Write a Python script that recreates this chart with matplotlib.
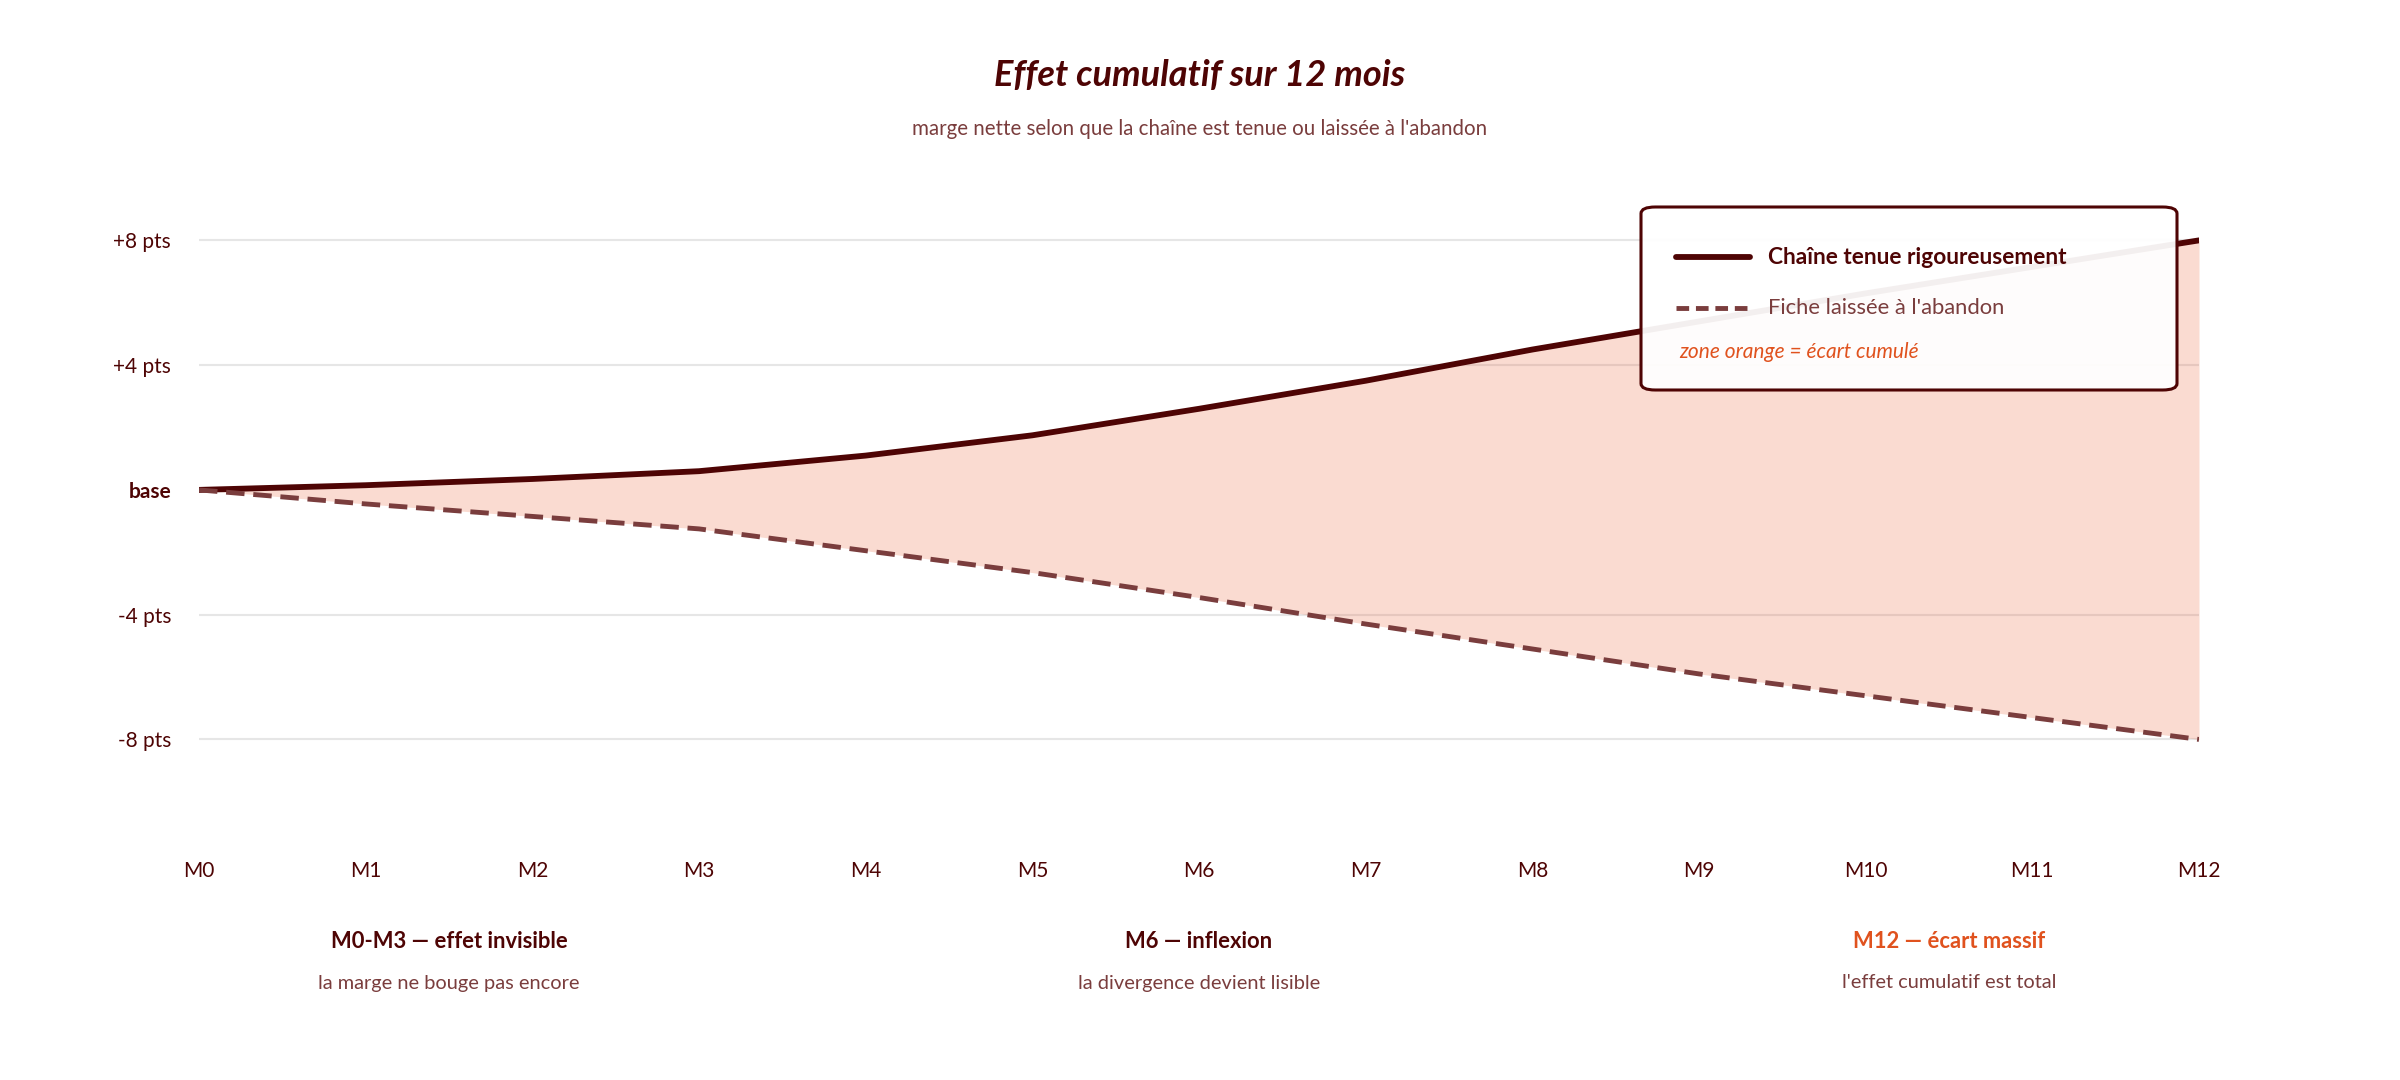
import numpy as np
import matplotlib.pyplot as plt
import matplotlib as mpl
from matplotlib.patches import FancyBboxPatch
from matplotlib.lines import Line2D
from matplotlib.transforms import blended_transform_factory

# Data
mois = ['M0', 'M1', 'M2', 'M3', 'M4', 'M5', 'M6', 'M7', 'M8', 'M9', 'M10', 'M11', 'M12']
tenue = [0, 0.15, 0.35, 0.6, 1.1, 1.75, 2.6, 3.5, 4.5, 5.4, 6.3, 7.15, 8.0]
abandon = [0, -0.45, -0.85, -1.25, -1.95, -2.65, -3.45, -4.3, -5.1, -5.9, -6.6, -7.3, -8.0]
y_ticks = [8, 4, 0, -4, -8]
y_labels = ['+8 pts', '+4 pts', 'base', '-4 pts', '-8 pts']

phases = [
    (1.5, 'M0-M3 — effet invisible', 'la marge ne bouge pas encore'),
    (6, 'M6 — inflexion', 'la divergence devient lisible'),
    (10.5, 'M12 — écart massif', "l'effet cumulatif est total"),
]

# Colours
DARK = '#4e0404'
MUTED = '#7a3d3d'
ORANGE = '#e0521e'
GRID = '#e6e6e6'

mpl.rcParams['font.family'] = ['Lato', 'DejaVu Sans']

fig = plt.figure(figsize=(24, 10.8), dpi=100)
ax = fig.add_axes([199 / 2400, 0.2287, 2000 / 2400, 0.6065])

x = np.arange(len(mois))

# Gap area
ax.fill_between(x, abandon, tenue, color='#e8552a', alpha=0.21, linewidth=0, zorder=2)

# Lines
ax.plot(x, tenue, color=DARK, linewidth=4.2, solid_capstyle='round', zorder=4)
ax.plot(x, abandon, color=MUTED, linewidth=3.5, dashes=(3.8, 1.8), zorder=4)

# Grid lines (no line at base)
for yv in y_ticks:
    if yv != 0:
        ax.axhline(yv, color=GRID, linewidth=1.5, zorder=1)

ax.set_xlim(0, 12)
ax.set_ylim(-11, 10)
ax.set_xticks(x)
ax.set_xticklabels(mois)
ax.set_yticks(y_ticks)
ax.set_yticklabels(y_labels)
ax.tick_params(axis='both', length=0, labelsize=15, labelcolor=DARK)
ax.tick_params(axis='x', pad=20)
ax.tick_params(axis='y', pad=20)
for lab in ax.get_yticklabels():
    if lab.get_text() == 'base':
        lab.set_fontweight('bold')
for s in ax.spines.values():
    s.set_visible(False)

# Titles
fig.text(0.5, 1 - 76 / 1080, 'Effet cumulatif sur 12 mois', ha='center', va='center',
         fontsize=26, fontweight='bold', fontstyle='italic', color=DARK)
fig.text(0.5, 1 - 129 / 1080, "marge nette selon que la chaîne est tenue ou laissée à l'abandon",
         ha='center', va='center', fontsize=14.8, color=MUTED)

# Phase notes under the axis
trans = blended_transform_factory(ax.transData, fig.transFigure)
for i, (xc, head, sub) in enumerate(phases):
    col = ORANGE if i == len(phases) - 1 else DARK
    ax.text(xc, 1 - 941 / 1080, head, transform=trans, ha='center', va='center',
            fontsize=15.8, fontweight='bold', color=col, clip_on=False)
    ax.text(xc, 1 - 983 / 1080, sub, transform=trans, ha='center', va='center',
            fontsize=14.4, color=MUTED, clip_on=False)

# Legend box
bx0, bx1 = 1641 / 2400, 2177 / 2400
by0, by1 = 1 - 390 / 1080, 1 - 207 / 1080
box = FancyBboxPatch((bx0, by0), bx1 - bx0, by1 - by0,
                     boxstyle='round,pad=0,rounding_size=0.006',
                     transform=fig.transFigure, facecolor='white', alpha=0.94,
                     edgecolor='none', zorder=5)
fig.patches.append(box)
box_edge = FancyBboxPatch((bx0, by0), bx1 - bx0, by1 - by0,
                          boxstyle='round,pad=0,rounding_size=0.006',
                          transform=fig.transFigure, facecolor='none',
                          edgecolor=DARK, linewidth=2.2, zorder=6)
fig.patches.append(box_edge)

lx0, lx1 = 1676 / 2400, 1750 / 2400
fig.lines.append(Line2D([lx0, lx1], [1 - 257 / 1080] * 2, transform=fig.transFigure,
                        color=DARK, linewidth=4.2, solid_capstyle='round', zorder=7))
fig.lines.append(Line2D([lx0, lx1], [1 - 308 / 1080] * 2, transform=fig.transFigure,
                        color=MUTED, linewidth=3.5, dashes=(2.6, 1.4), zorder=7))
fig.text(1768 / 2400, 1 - 257 / 1080, 'Chaîne tenue rigoureusement', ha='left', va='center',
         fontsize=16.4, fontweight='bold', color=DARK, zorder=7)
fig.text(1768 / 2400, 1 - 308 / 1080, "Fiche laissée à l'abandon", ha='left', va='center',
         fontsize=15.8, color=MUTED, zorder=7)
fig.text(1679 / 2400, 1 - 352 / 1080, 'zone orange = écart cumulé', ha='left', va='center',
         fontsize=15, fontstyle='italic', color=ORANGE, zorder=7)

fig.savefig('out.png', dpi=100, facecolor='white')
